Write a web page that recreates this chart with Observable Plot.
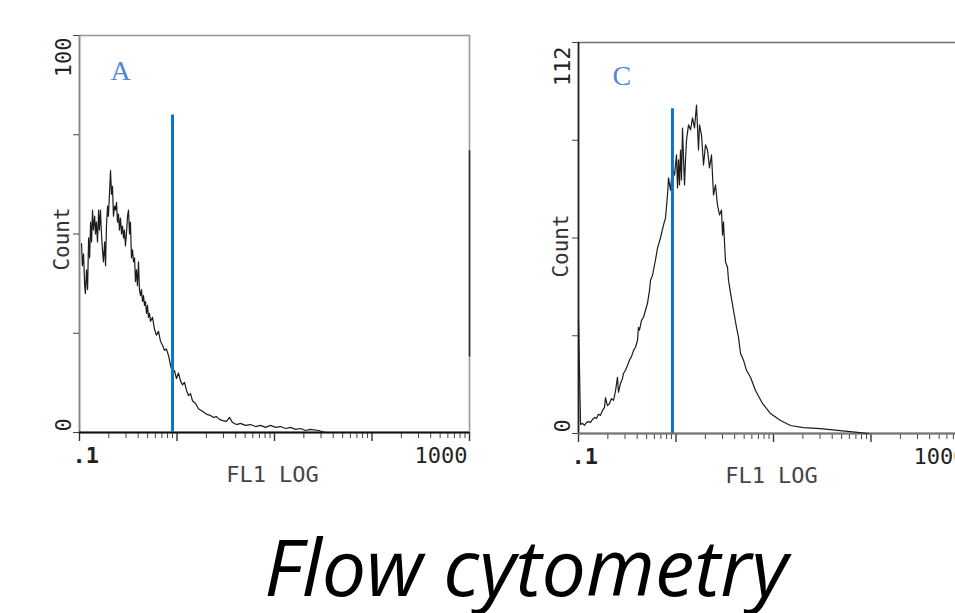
<!DOCTYPE html>
<html>
<head>
<meta charset="utf-8">
<script src="https://cdn.jsdelivr.net/npm/d3@7"></script>
<script src="https://cdn.jsdelivr.net/npm/@observablehq/plot@0.6"></script>
<style>
  html, body { margin: 0; padding: 0; background: #fff; overflow: hidden; }
  #wrap { position: relative; width: 955px; height: 613px; overflow: hidden; background: #fff; }
  #panelA { position: absolute; left: 0; top: 0; width: 480px; }
  #panelC { position: absolute; left: 500px; top: 0; width: 479px; }
  #panelA svg, #panelC svg { max-width: none !important; }
  #caption { position: absolute; left: 0; width: 1052px; top: 526px; text-align: center;
             font-family: "Open Sans", sans-serif; font-style: italic; font-size: 79px;
             line-height: 79px; color: #000; white-space: nowrap; }
</style>
</head>
<body>
<div id="wrap">
  <div id="panelA"></div>
  <div id="panelC"></div>
  <div id="caption">Flow cytometry</div>
</div>
<script>
// ---------- data ----------
// Panel A histogram: [FL1 value, count]
const histA = [
  [0.105,47.6],[0.107,42],[0.110,45],[0.113,37],[0.115,35],[0.118,41],[0.121,36],[0.124,49],[0.127,44],[0.130,53],
  [0.133,48],[0.136,56],[0.139,51],[0.143,54.5],[0.146,50],[0.149,53],[0.153,48],[0.157,56],[0.160,51],[0.164,56],
  [0.168,50],[0.172,46],[0.176,43],[0.181,48],[0.185,42],[0.189,52],[0.194,57],[0.198,54.5],[0.203,60],[0.208,66],
  [0.213,60],[0.218,62],[0.223,54.5],[0.229,57],[0.234,56],[0.240,58],[0.245,53],[0.251,55],[0.257,51],[0.263,54],
  [0.270,50],[0.276,52],[0.283,49],[0.289,51],[0.296,47],[0.303,50],[0.311,54.5],[0.318,56],[0.326,50],[0.333,53],
  [0.341,44],[0.350,46],[0.358,43],[0.367,44],[0.375,38],[0.384,41],[0.393,37],[0.403,43],[0.412,36],[0.422,34.5],
  [0.432,36],[0.443,33],[0.453,34.5],[0.464,32],[0.475,33],[0.487,30],[0.498,32],[0.510,29],[0.522,30],[0.535,28],
  [0.561,29],[0.588,26],[0.616,24.5],[0.646,25.5],[0.677,23],[0.710,22],[0.744,20.7],[0.780,21],[0.818,19.4],[0.858,17],
  [0.899,15],[0.943,15.6],[0.988,13.6],[1.036,15],[1.086,13],[1.139,12],[1.194,12.6],[1.252,10.6],[1.312,9.3],[1.376,9.8],
  [1.442,8],[1.548,7.3],[1.661,6],[1.784,5.5],[1.915,5],[2.055,4.5],[2.206,4.3],[2.368,3.8],[2.542,4],[2.729,3.3],
  [2.929,3],[3.220,2.8],[3.456,3.8],[3.710,2.5],[4.077,2],[4.481,2.3],[5.043,1.8],[5.674,2],[6.385,1.5],[7.185,1.8],
  [8.085,1.3],[9.099,1.8],[10.24,1.3],[11.52,1.5],[12.97,1],[14.59,1.3],[16.42,0.8],[18.48,1],[20.80,0.5],[23.40,0.8],
  [28.27,0.5],[33.35,0]
];
// Panel C histogram: [FL1 value, count]
const histC = [
  [0.100,32.4],[0.105,2.6],[0.110,2.9],[0.115,2.3],[0.121,3.2],[0.127,3.4],[0.133,3.2],[0.139,4.0],[0.146,4.6],[0.153,4.3],
  [0.160,5.5],[0.168,5.2],[0.176,6.6],[0.185,7.5],[0.189,10.3],[0.198,8.0],[0.208,8.6],[0.218,10.0],[0.229,9.5],[0.240,12.3],
  [0.251,16.1],[0.257,11.8],[0.270,14.4],[0.283,15.8],[0.289,17.2],[0.303,18.1],[0.318,19.5],[0.333,21.0],[0.350,22.1],[0.367,23.8],
  [0.384,24.7],[0.403,26.7],[0.412,30.4],[0.422,29.6],[0.443,32.4],[0.464,33.3],[0.487,35.3],[0.510,37.3],[0.535,41.0],[0.548,43.9],
  [0.574,45.3],[0.616,49.7],[0.646,53.1],[0.693,56.0],[0.744,59.7],[0.780,61.7],[0.818,68.3],[0.838,73.2],[0.878,69.7],[0.921,76.1],
  [0.965,74.0],[1.012,79.8],[1.036,70.3],[1.061,78.4],[1.086,71.2],[1.112,81.2],[1.139,72.6],[1.166,87.5],[1.194,78.9],[1.223,71.2],
  [1.252,78.4],[1.282,84.1],[1.344,88.4],[1.409,87.0],[1.477,90.4],[1.548,87.5],[1.623,94.1],[1.701,81.2],[1.742,88.4],[1.826,85.5],
  [1.915,76.9],[2.007,82.7],[2.104,81.2],[2.206,76.1],[2.313,79.8],[2.425,68.3],[2.542,71.2],[2.665,65.4],[2.794,62.6],[2.929,64.0],
  [2.999,56.8],[3.070,60.6],[3.220,49.1],[3.375,47.6],[3.456,43.9],[3.624,40.2],[3.888,35.3],[4.174,30.4],[4.375,27.6],[4.586,23.0],
  [4.924,21.0],[5.285,18.1],[5.808,16.1],[6.538,12.3],[7.713,8.6],[9.316,5.7],[11.80,3.7],[14.94,2.3],[20.31,1.7],[30.35,1.4],
  [45.34,0.9],[72.70,0.3],[94.27,0]
];
// gate markers (blue lines): [FL1 value, top count]
const gateA = [[0.9, 80]];
const gateC = [[0.92, 93]];
// pile-up in the last channel of panel A: [FL1 value, low count, high count]
const pileA = [[1000, 19, 71]];

const xDomain = [0.1, 1000];
const decadeTicks = [0.1, 1, 10, 100, 1000];
const minorMultipliers = [2, 3, 4, 5, 6, 7, 8, 9];
const yTicksA = [0, 25, 50, 75, 100];
const yTicksC = [0, 28, 56, 84, 112];
const xTickLabels = [".1", "1000"];
const xAxisTitle = "FL1 LOG";
const yAxisTitle = "Count";
const panelLetters = ["A", "C"];

// ---------- drawing ----------
const minorTicks = decadeTicks.slice(0, -1).flatMap(d => minorMultipliers.map(m => d * m));
const mono = "DejaVu Sans Mono";

function panel(hist, gate, pile, yTicks, letter, cfg) {
  const data = hist.map(([fl, count]) => ({fl, count}));
  const gates = gate.map(([fl, top]) => ({fl, top}));
  const piles = pile.map(([fl, lo, hi]) => ({fl, lo, hi}));
  const yMax = yTicks[yTicks.length - 1];
  return Plot.plot({
    width: cfg.width, height: cfg.height,
    marginLeft: cfg.ml, marginRight: cfg.mr, marginTop: cfg.mt, marginBottom: cfg.mb,
    x: {type: "log", domain: xDomain},
    y: {domain: [0, yMax]},
    style: {background: "transparent", fontFamily: mono, color: "#222", overflow: "visible"},
    marks: [
      Plot.frame({stroke: cfg.frameColor, strokeWidth: 1.6}),
      Plot.ruleX([xDomain[0]], {stroke: cfg.leftColor, strokeWidth: 1.6}),
      Plot.axisY({ticks: yTicks, tickSize: 6, tickFormat: () => "", label: null, stroke: "#444"}),
      Plot.axisX({ticks: minorTicks, tickSize: 6, tickFormat: () => "", label: null, stroke: "#444"}),
      Plot.axisX({ticks: decadeTicks, tickSize: 9, tickFormat: () => "", label: null, stroke: "#333", strokeWidth: 1.4}),
      Plot.ruleY([0], {stroke: cfg.bottomColor, strokeWidth: 2}),
      Plot.line(data, {x: "fl", y: "count", stroke: "#1c1c1c", strokeWidth: 1.2}),
      Plot.ruleX(piles, {x: "fl", y1: "lo", y2: "hi", stroke: "#333", strokeWidth: 1.6}),
      Plot.ruleX(gates, {x: "fl", y1: 0, y2: "top", stroke: "#1173c6", strokeWidth: 3}),
      // panel letter
      Plot.text([letter], {frameAnchor: "top-left", textAnchor: "start", lineAnchor: "middle",
        dx: cfg.letterDx, dy: cfg.letterDy, fontFamily: "Liberation Serif", fontSize: 28, fill: "#4f88d8"}),
      // y labels (rotated)
      Plot.text([String(yMax)], {frameAnchor: "top-left", rotate: -90, textAnchor: "end", lineAnchor: "middle",
        dx: -16, dy: cfg.topLabelDy, fontFamily: mono, fontSize: 22, fill: "#222"}),
      Plot.text([String(yTicks[0])], {frameAnchor: "bottom-left", rotate: -90, textAnchor: "start", lineAnchor: "middle",
        dx: -16, dy: -1, fontFamily: mono, fontSize: 22, fill: "#222"}),
      Plot.text([yAxisTitle], {frameAnchor: "left", rotate: -90, textAnchor: "middle", lineAnchor: "middle",
        dx: -17, dy: cfg.countDy, fontFamily: mono, fontSize: 21, fill: "#333"}),
      // x labels
      Plot.text([xTickLabels[0]], {frameAnchor: "bottom-left", textAnchor: "start", lineAnchor: "middle",
        dx: -7, dy: 23, fontFamily: mono, fontSize: 22, fontWeight: "bold", fill: "#222"}),
      Plot.text([xTickLabels[1]], {frameAnchor: "bottom-right", textAnchor: "end", lineAnchor: "middle",
        dx: -2, dy: 23, fontFamily: mono, fontSize: 22, fill: "#222"}),
      Plot.text([xAxisTitle], {frameAnchor: "bottom", textAnchor: "middle", lineAnchor: "middle",
        dx: -2, dy: 42, fontFamily: mono, fontSize: 22, fill: "#444"})
    ]
  });
}

document.getElementById("panelA").appendChild(panel(histA, gateA, pileA, yTicksA, panelLetters[0], {
  width: 480, height: 490, ml: 79, mr: 11, mt: 35, mb: 58,
  frameColor: "#9a9a9a", leftColor: "#888", bottomColor: "#111",
  letterDx: 31, letterDy: 36, topLabelDy: 2, countDy: 5
}));
document.getElementById("panelC").appendChild(panel(histC, gateC, [], yTicksC, panelLetters[1], {
  width: 479, height: 490, ml: 78, mr: 11, mt: 42, mb: 57,
  frameColor: "#777", leftColor: "#222", bottomColor: "#777",
  letterDx: 34, letterDy: 34, topLabelDy: 4, countDy: 8
}));
</script>
</body>
</html>
